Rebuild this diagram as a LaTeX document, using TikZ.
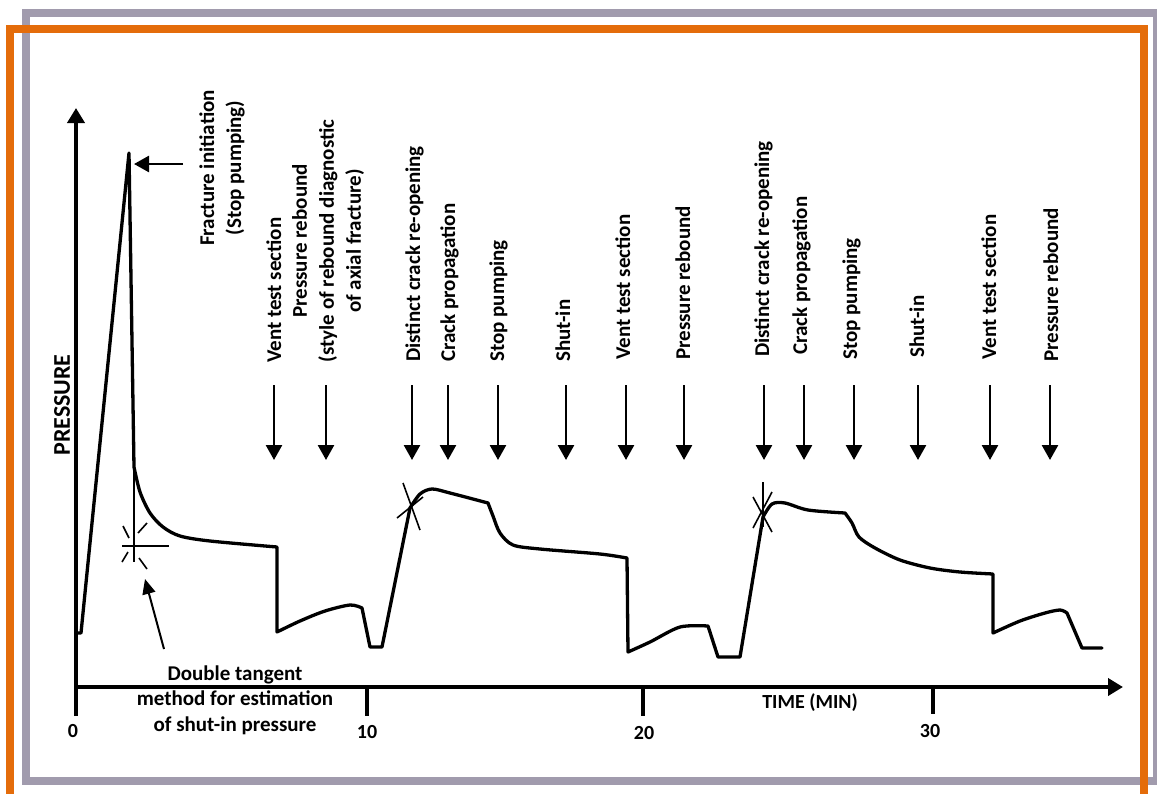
\documentclass[tikz,border=0pt]{standalone}
\usepackage{fontspec}
\setmainfont{Carlito}
\usetikzlibrary{arrows.meta}

\begin{document}
\begin{tikzpicture}[x=1pt, y=-1pt]

\definecolor{framegray}{RGB}{161,155,173}
\definecolor{frameorange}{RGB}{228,108,10}

\def\arrtop{385}
\def\arrtip{460}

\tikzset{
  axisline/.style={line width=4pt},
  curveline/.style={line width=3.3pt, line join=round, line cap=round},
  tangentline/.style={line width=1.6pt},
  eventarrow/.style={line width=2.6pt, -{Triangle[width=16pt,length=15pt]}},
  eventlabel/.style={rotate=90, anchor=base west, inner sep=0pt, font=\fontsize{21}{28}\selectfont\bfseries},
  blocklabel/.style={rotate=90, anchor=center, align=center, inner sep=0pt, font=\fontsize{21}{27}\selectfont\bfseries},
  ticklabel/.style={inner sep=0pt, font=\fontsize{20}{24}\selectfont\bfseries},
}

\useasboundingbox (0,0) rectangle (1157,793);

% frames
\draw[framegray, line width=8pt] (26,13) rectangle (1157,781);
\draw[frameorange, line width=8pt, line join=miter] (10,810) -- (10,29) -- (1144,29) -- (1144,810);

% axes
\coordinate (origin) at (76,716);
\coordinate (ytop) at (76,108);
\coordinate (xstart) at (76,687);
\coordinate (xend) at (1123,687);
\draw[axisline, -{Triangle[width=17pt,length=15pt]}] (origin) -- (ytop);
\draw[axisline, -{Triangle[width=17pt,length=15pt]}] (xstart) -- (xend);
\draw[axisline] (367,687) -- (367,716);
\draw[axisline] (643,687) -- (643,716);
\draw[axisline] (933,687) -- (933,714);

\node[ticklabel] (t0) at (73,731) {0};
\node[ticklabel] (t10) at (367,732) {10};
\node[ticklabel] (t20) at (644,733) {20};
\node[ticklabel] (t30) at (930,731) {30};
\node[ticklabel] (time) at (810,703) {TIME (MIN)};
\node[rotate=90, inner sep=0pt, font=\fontsize{24}{28}\selectfont\bfseries] (pressure) at (62,405) {PRESSURE};

% pressure record
\draw[curveline] (76,633) -- (81,633) -- (129,153) -- (134,467)
  -- plot[smooth] coordinates {(134,467) (140,492) (150,513) (163,527) (180,536) (210,541) (277,547)}
  -- (277,632)
  -- plot[smooth] coordinates {(277,632) (300,621) (325,611) (350,605) (362,608)}
  -- (370,647) -- (382,647) -- (410,508)
  -- plot[smooth] coordinates {(410,508) (420,494) (432,489) (450,493) (488,503)}
  -- plot[smooth] coordinates {(488,503) (493,516) (500,533) (513,545) (540,549) (600,554) (627,558)}
  -- (628,652)
  -- plot[smooth] coordinates {(628,652) (650,642) (680,627) (708,626)}
  -- (718,657) -- (740,657) -- (763,517)
  -- plot[smooth] coordinates {(763,517) (772,504) (785,503) (808,510) (845,513)}
  -- plot[smooth] coordinates {(845,513) (852,523) (859,537) (875,548) (900,560) (930,568) (960,572) (993,574)}
  -- (993,633)
  -- plot[smooth] coordinates {(993,633) (1020,621) (1045,613) (1060,610) (1067,613)}
  -- (1082,648) -- (1102,648);

% double tangent marks
\draw[tangentline] (134,467) -- (134,562);
\draw[tangentline] (122,546) -- (169,546);
\draw[tangentline] (123,526) -- (129,538);
\draw[tangentline] (147,523) -- (138,533);
\draw[tangentline] (122,562) -- (128,552);
\draw[tangentline] (139,558) -- (147,569);

\draw[tangentline] (403,483) -- (420,530);
\draw[tangentline] (397,518) -- (423,497);

\draw[tangentline] (763,482) -- (763,527);
\draw[tangentline] (753,497) -- (772,532);
\draw[tangentline] (772,492) -- (753,528);

% fracture initiation
\node[blocklabel] (frac) at (222,168) {Fracture initiation\\(Stop pumping)};
\coordinate (fractail) at (183,164);
\coordinate (fractip) at (134,164);
\draw[line width=2.6pt, -{Triangle[width=16pt,length=15pt]}] (fractail) -- (fractip);

% shut-in estimate
\node[align=center, inner sep=0pt, font=\fontsize{21}{25.5}\selectfont\bfseries] (dtm) at (235,700) {Double tangent\\method for estimation\\of shut-in pressure};
\coordinate (dttail) at (164,649);
\coordinate (dttip) at (145,579);
\draw[line width=2pt, -{Triangle[width=13pt,length=15pt]}] (dttail) -- (dttip);

% event labels
\node[eventlabel] (vent1) at (281,363) {Vent test section};
\node[blocklabel] (rebound1) at (328,241) {Pressure rebound\\(style of rebound diagnostic\\of axial fracture)};
\node[eventlabel] (reopen1) at (420,362) {Distinct crack re-opening};
\node[eventlabel] (crack1) at (455,362) {Crack propagation};
\node[eventlabel] (stop1) at (504,362) {Stop pumping};
\node[eventlabel] (shut1) at (570,362) {Shut-in};
\node[eventlabel] (vent2) at (630,360) {Vent test section};
\node[eventlabel] (rebound2) at (690,360) {Pressure rebound};
\node[eventlabel] (reopen2) at (769,357) {Distinct crack re-opening};
\node[eventlabel] (crack2) at (807,355) {Crack propagation};
\node[eventlabel] (stop2) at (857,360) {Stop pumping};
\node[eventlabel] (shut2) at (924,358) {Shut-in};
\node[eventlabel] (vent3) at (996,360) {Vent test section};
\node[eventlabel] (rebound3) at (1058,362) {Pressure rebound};

% event arrows
\draw[eventarrow] (274,\arrtop) coordinate (a1) -- (274,\arrtip) coordinate (b1);
\draw[eventarrow] (326,\arrtop) coordinate (a2) -- (326,\arrtip) coordinate (b2);
\draw[eventarrow] (412,\arrtop) coordinate (a3) -- (412,\arrtip) coordinate (b3);
\draw[eventarrow] (448,\arrtop) coordinate (a4) -- (448,\arrtip) coordinate (b4);
\draw[eventarrow] (498,\arrtop) coordinate (a5) -- (498,\arrtip) coordinate (b5);
\draw[eventarrow] (566,\arrtop) coordinate (a6) -- (566,\arrtip) coordinate (b6);
\draw[eventarrow] (626,\arrtop) coordinate (a7) -- (626,\arrtip) coordinate (b7);
\draw[eventarrow] (684,\arrtop) coordinate (a8) -- (684,\arrtip) coordinate (b8);
\draw[eventarrow] (764,\arrtop) coordinate (a9) -- (764,\arrtip) coordinate (b9);
\draw[eventarrow] (804,\arrtop) coordinate (a10) -- (804,\arrtip) coordinate (b10);
\draw[eventarrow] (854,\arrtop) coordinate (a11) -- (854,\arrtip) coordinate (b11);
\draw[eventarrow] (918,\arrtop) coordinate (a12) -- (918,\arrtip) coordinate (b12);
\draw[eventarrow] (990,\arrtop) coordinate (a13) -- (990,\arrtip) coordinate (b13);
\draw[eventarrow] (1050,\arrtop) coordinate (a14) -- (1050,\arrtip) coordinate (b14);

\end{tikzpicture}
\end{document}
